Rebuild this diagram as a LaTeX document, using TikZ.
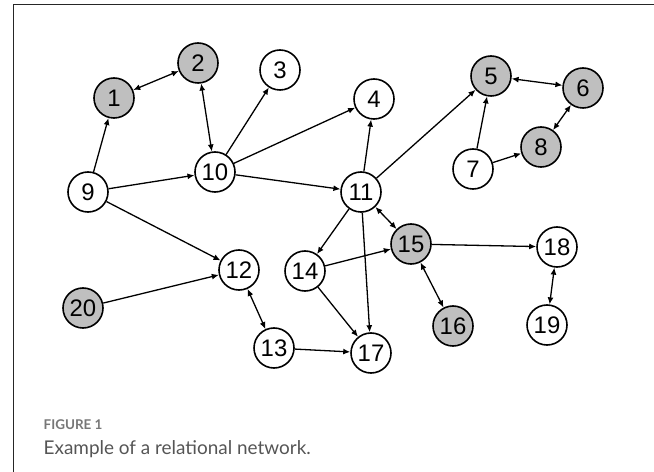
\documentclass[tikz,border=0pt]{standalone}
\usepackage{fontspec}
\setmainfont{Liberation Sans}
\newfontfamily\captionfont{Lato}
\usepackage{xcolor}
\usetikzlibrary{arrows.meta}
\definecolor{nodegrey}{HTML}{BFBFBF}
\definecolor{capgrey}{HTML}{777777}
\definecolor{textgrey}{HTML}{555555}

\begin{document}
\begin{tikzpicture}[x=1bp, y=-1bp, line width=1.3bp, >={Latex[length=7bp,width=6bp]}]
    \tikzstyle{plain} = [circle, draw=black, fill=white, line width=1.6bp, minimum size=40bp, inner sep=0pt, font=\fontsize{24}{24}\selectfont]
    \tikzstyle{grey} = [plain, fill=nodegrey]
    \tikzstyle{link} = [->, line width=1.3bp]
    \tikzstyle{twoway} = [<->, line width=1.3bp]

    \useasboundingbox (0,0) rectangle (654,472);
    \draw [line width=1bp, black!85] (13,472) -- (13,5) -- (654,5);

    % Nodes
    \node [grey] (n1) at (114,98) {1};
    \node [grey] (n2) at (198,63) {2};
    \node [plain] (n3) at (280,70) {3};
    \node [plain] (n4) at (374,99) {4};
    \node [grey] (n5) at (491,76) {5};
    \node [grey] (n6) at (583,88) {6};
    \node [plain] (n7) at (473,169) {7};
    \node [grey] (n8) at (541,147) {8};
    \node [plain] (n9) at (88,192) {9};
    \node [plain] (n10) at (215,172) {10};
    \node [plain] (n11) at (361,192) {11};
    \node [plain] (n12) at (239,270) {12};
    \node [plain] (n13) at (274,348) {13};
    \node [plain] (n14) at (305,271) {14};
    \node [grey] (n15) at (411,244) {15};
    \node [grey] (n16) at (453,326) {16};
    \node [plain] (n17) at (371,353) {17};
    \node [plain] (n18) at (557,247) {18};
    \node [plain] (n19) at (547,325) {19};
    \node [grey] (n20) at (83,308) {20};

    % Connections
    \draw [link] (n9) -- (n1);
    \draw [twoway] (n1) -- (n2);
    \draw [twoway] (n2) -- (n10);
    \draw [link] (n9) -- (n10);
    \draw [link] (n9) -- (n12);
    \draw [link] (n10) -- (n3);
    \draw [link] (n10) -- (n4);
    \draw [link] (n10) -- (n11);
    \draw [link] (n20) -- (n12);
    \draw [twoway] (n12) -- (n13);
    \draw [link] (n13) -- (n17);
    \draw [link] (n11) -- (n4);
    \draw [link] (n11) -- (n5);
    \draw [link] (n11) -- (n14);
    \draw [link] (n11) -- (n17);
    \draw [twoway] (n11) -- (n15);
    \draw [link] (n14) -- (n15);
    \draw [link] (n14) -- (n17);
    \draw [link] (n15) -- (n18);
    \draw [twoway] (n15) -- (n16);
    \draw [twoway] (n18) -- (n19);
    \draw [link] (n7) -- (n5);
    \draw [link] (n7) -- (n8);
    \draw [twoway] (n5) -- (n6);
    \draw [twoway] (n6) -- (n8);

    % Caption
    \node [anchor=west, inner sep=0pt, text=capgrey, font=\captionfont\bfseries\fontsize{13.5}{13.5}\selectfont] (figlabel) at (43,425) {FIGURE 1};
    \node [anchor=west, inner sep=0pt, text=textgrey, font=\captionfont\fontsize{19}{19}\selectfont] (figtext) at (43,449) {Example of a relational network.};
\end{tikzpicture}
\end{document}
